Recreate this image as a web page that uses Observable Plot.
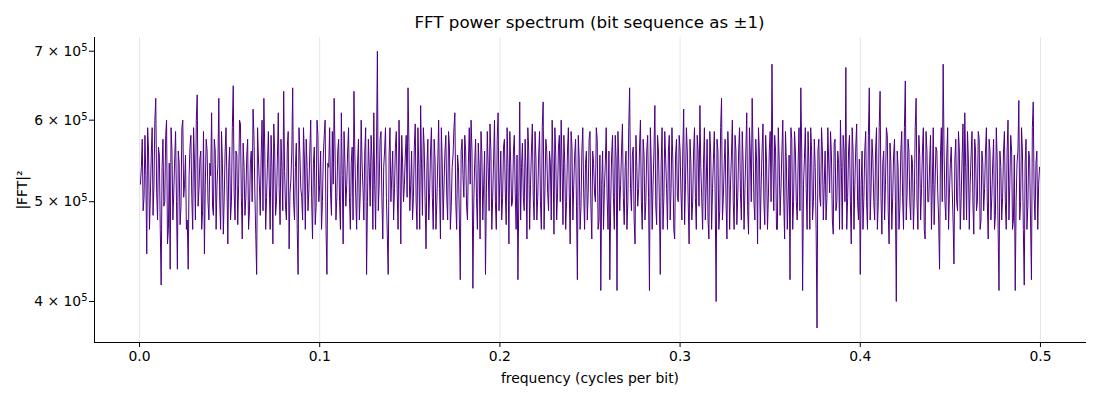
<!DOCTYPE html>
<html><head><meta charset="utf-8">
<script src="https://cdn.jsdelivr.net/npm/d3@7"></script>
<script src="https://cdn.jsdelivr.net/npm/@observablehq/plot@0.6"></script>
<style>
body{margin:0;background:#fff;font-family:"DejaVu Sans",sans-serif}
#title{width:1100px;height:30px;box-sizing:border-box;padding:15px 15px 0 94px;text-align:center;font-size:16.7px;line-height:15px;color:#000;white-space:nowrap}
</style></head><body>
<div id="title"></div><div id="chart"></div>
<script>
const title = "FFT power spectrum (bit sequence as ±1)";
const xLabel = "frequency (cycles per bit)";
const yLabel = "|FFT|²";
const nBits = 2000;
const xTicks = [0, 0.1, 0.2, 0.3, 0.4, 0.5];
const yTicks = [400000, 500000, 600000, 700000];
// |FFT|^2 values in thousands, frequency bins j = 1..999 (cycles per bit = j / nBits)
const powerK = [
520,540,575,490,505,580,530,445,590,560,470,505,555,590,485,520,600,630,510,480,565,555,470,415,540,575,495,500,580,600,455,470,545,430,590,560,480,510,550,585,
500,430,560,545,475,495,590,600,505,520,555,470,480,430,530,565,580,505,470,590,545,480,600,635,495,515,550,560,470,490,585,445,520,575,560,500,480,545,530,610,
495,485,575,560,470,520,545,630,500,470,585,545,465,505,560,590,520,455,540,565,480,500,590,648,510,480,560,555,475,520,600,595,505,460,570,540,485,505,555,575,
470,490,545,560,500,615,580,510,465,425,590,550,520,485,555,600,490,630,560,470,505,545,585,520,470,580,540,455,595,560,485,500,550,610,515,475,575,540,490,640,
535,495,480,565,585,450,510,525,560,645,500,480,540,570,470,425,590,555,515,505,480,590,550,470,575,540,490,515,560,600,505,460,545,565,475,495,600,580,500,520,
560,470,500,555,580,600,470,425,545,540,590,510,485,585,520,630,560,480,505,560,575,500,470,610,530,455,585,545,495,520,560,590,505,470,545,565,480,640,555,505,
470,545,575,480,510,600,545,515,480,560,590,425,500,575,540,495,580,550,470,610,520,470,560,700,490,520,575,585,505,460,540,560,590,505,465,425,555,590,500,530,
560,480,515,565,585,510,470,600,540,455,580,545,500,520,555,580,505,645,570,490,520,560,480,505,565,595,500,470,590,540,470,620,545,485,590,565,500,450,540,575,
480,510,560,590,505,470,575,550,470,500,545,600,515,460,590,545,480,520,560,580,505,480,585,565,470,495,540,555,590,610,500,470,555,540,480,420,560,575,530,505,
580,560,495,480,545,590,520,600,560,412,500,545,575,505,470,570,540,460,585,555,480,520,560,425,510,585,540,490,595,560,470,505,550,600,500,470,575,610,490,525,
560,480,505,565,575,510,475,590,540,455,585,545,495,500,560,580,510,470,555,420,505,625,480,540,570,505,490,575,535,460,590,560,470,520,560,595,505,480,585,550,
480,505,555,585,500,470,590,625,470,515,575,560,510,490,560,545,480,600,545,465,590,555,480,510,565,580,500,600,540,475,580,545,470,500,560,590,510,455,585,565,
480,520,555,575,495,420,580,550,470,495,560,590,510,470,545,560,480,510,575,585,495,460,560,545,510,500,590,575,470,480,555,410,520,560,470,515,545,590,505,470,
560,420,500,555,580,505,470,580,550,410,585,545,490,520,560,595,505,475,540,560,470,500,590,645,515,490,555,565,480,455,580,540,495,515,565,600,500,470,575,555,
480,500,560,580,505,410,590,545,470,520,560,620,495,475,580,560,500,425,545,590,470,505,585,550,515,470,560,580,480,515,590,545,470,460,555,575,505,500,580,560,
510,480,560,615,475,520,590,560,500,455,575,545,480,500,560,590,505,470,580,560,495,620,540,505,470,545,590,480,520,575,480,460,585,555,470,515,550,585,500,400,
575,560,470,490,590,630,480,505,545,575,500,460,585,550,470,520,555,600,500,470,580,560,475,505,560,590,510,480,585,545,470,515,560,610,490,465,590,555,500,630,
560,500,480,575,545,455,590,560,470,520,560,595,500,475,580,545,470,505,560,585,500,680,545,490,580,560,470,470,590,550,485,515,560,600,505,460,585,545,470,505,
555,420,590,575,470,500,585,560,500,480,545,590,490,645,560,410,520,550,590,515,470,585,545,470,590,560,480,500,575,540,470,377,560,575,505,495,590,560,480,520,
560,480,505,590,545,510,585,555,480,465,570,575,490,500,560,545,470,600,540,470,580,560,500,675,470,505,560,580,500,455,590,560,470,520,565,595,500,480,550,425,
520,560,470,505,560,585,500,470,580,645,480,515,575,550,500,480,560,590,470,500,590,640,505,465,545,560,480,520,590,580,490,455,570,545,470,505,555,575,500,400,
560,540,470,495,560,585,505,470,590,655,480,510,575,560,500,480,555,545,470,505,590,630,500,470,580,555,480,515,560,590,470,460,585,560,500,500,545,580,470,520,
590,475,520,565,560,510,480,430,555,590,500,680,560,500,480,555,590,470,510,545,565,515,480,435,550,575,500,490,585,560,470,505,550,595,480,610,540,480,585,550,
470,520,555,585,500,465,575,560,490,500,585,575,470,480,560,545,490,515,560,590,500,460,575,560,480,505,545,575,470,485,590,550,470,410,560,540,480,505,560,585,
500,470,560,600,480,520,580,560,470,480,555,410,500,545,560,627,480,500,590,560,470,415,545,575,470,495,560,550,480,420,590,625,505,480,545,560,470,520,540
];
const data = powerK.map((p, i) => ({freq: (i + 1) / nBits, power: p * 1000}));

document.getElementById("title").textContent = title;

const chart = Plot.plot({
  width: 1100,
  height: 370,
  marginTop: 7,
  marginBottom: 58,
  marginLeft: 94,
  marginRight: 15,
  style: {fontFamily: "DejaVu Sans, sans-serif", fontSize: "13.9px", color: "#000", background: "#fff", overflow: "visible"},
  x: {
    domain: [-0.025, 0.525],
    ticks: xTicks,
    tickFormat: d3.format(".1f"),
    tickSize: 5,
    tickPadding: 4,
    label: xLabel,
    labelArrow: "none",
    labelAnchor: "center",
    labelOffset: 40,
    line: true
  },
  y: {
    type: "log",
    domain: [365000, 721800],
    ticks: yTicks,
    tickFormat: d => `${d / 100000} × 10`,
    tickSize: 5,
    tickPadding: 2,
    label: yLabel,
    labelArrow: "none",
    labelAnchor: "center",
    labelOffset: 77,
    line: true
  },
  marks: [
    Plot.gridX(xTicks, {stroke: "#e6e6e6", strokeOpacity: 1, strokeWidth: 1}),
    Plot.lineY(data, {x: "freq", y: "power", stroke: "#4b0082", strokeWidth: 1})
  ]
});
d3.select(chart).selectAll('g[aria-label="y-axis tick label"] text').each(function () {
  d3.select(this).append("tspan").attr("dy", "-0.5em").attr("font-size", "0.72em").text("5");
});
document.getElementById("chart").appendChild(chart);
</script>
</body></html>
